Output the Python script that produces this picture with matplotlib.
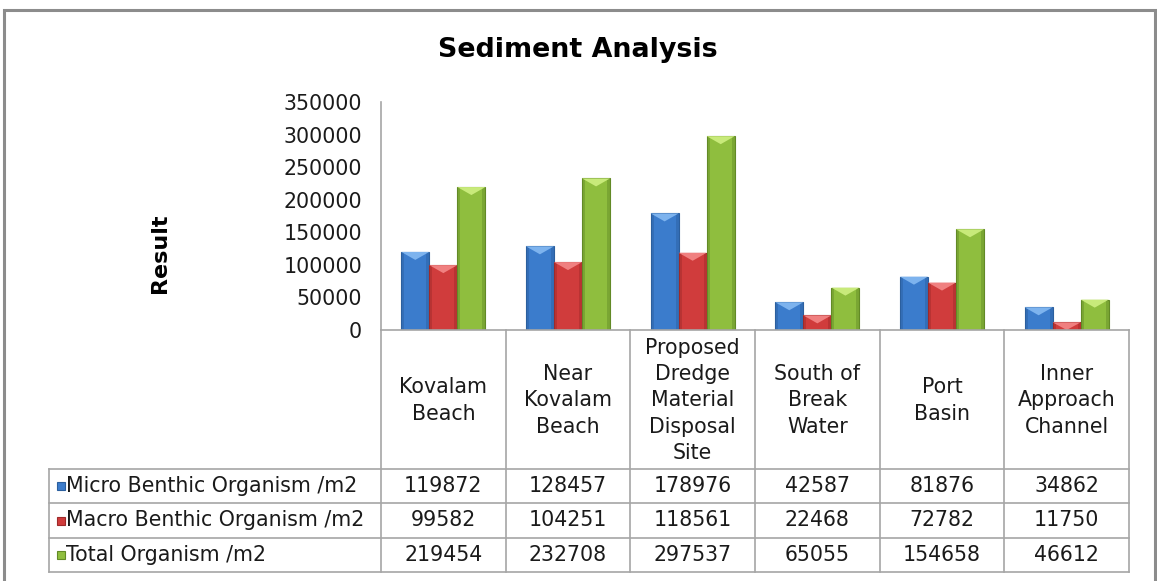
import matplotlib
matplotlib.use("Agg")
import matplotlib.pyplot as plt
import numpy as np
from matplotlib.patches import Rectangle, Polygon
from matplotlib.transforms import blended_transform_factory
from matplotlib.lines import Line2D

# ---------------- data ----------------
title = "Sediment Analysis"
y_label = "Result"
categories = ["Kovalam\nBeach", "Near\nKovalam\nBeach", "Proposed\nDredge\nMaterial\nDisposal\nSite",
              "South of\nBreak\nWater", "Port\nBasin", "Inner\nApproach\nChannel"]
series_names = ["Micro Benthic Organism /m2", "Macro Benthic Organism /m2", "Total Organism /m2"]
micro = [119872, 128457, 178976, 42587, 81876, 34862]
macro = [99582, 104251, 118561, 22468, 72782, 11750]
total = [219454, 232708, 297537, 65055, 154658, 46612]
y_ticks = [0, 50000, 100000, 150000, 200000, 250000, 300000, 350000]

# ---------------- style ----------------
W, H = 1157, 581
DPI = 100
base_colors = ["#3b7ccc", "#d03c3c", "#8fbe3e"]
dark_colors = ["#2b5f9e", "#9e2a2a", "#628a26"]
light_colors = ["#7db3ee", "#f08080", "#c8ea7a"]
grid_gray = "#a6a6a6"
FS = 14.8
FONT = "DejaVu Sans"
plt.rcParams["font.family"] = FONT

fig = plt.figure(figsize=(W / DPI, H / DPI), dpi=DPI)

def fx(px):
    return px / W

def fy(py):
    return 1 - py / H

# plot area in pixels
ax_left, ax_right, ax_top, ax_bottom = 381, 1129, 102, 330
ax = fig.add_axes([fx(ax_left), fy(ax_bottom), fx(ax_right - ax_left), (ax_bottom - ax_top) / H])
n = len(categories)
ax.set_xlim(-0.5, n - 0.5)
ax.set_ylim(0, 350000)
ax.set_yticks(y_ticks)
ax.set_yticklabels([str(v) for v in y_ticks], fontsize=FS, color="#1a1a1a")
ax.tick_params(axis="y", length=0, pad=13.5)
ax.set_xticks([])
for s in ["top", "right", "bottom"]:
    ax.spines[s].set_visible(False)
ax.spines["left"].set_color(grid_gray)
ax.spines["left"].set_linewidth(1.2)
ax.patch.set_alpha(0)

# outer frame
fig.patches.append(Rectangle((fx(4), fy(600)), fx(1155 - 4), (600 - 10) / H,
                             transform=fig.transFigure, fill=False,
                             edgecolor="#8c8c8c", linewidth=2.2, zorder=0))

# bars
x = np.arange(n)
bw = 0.225
offsets = [-bw, 0, bw]
series = [micro, macro, total]

# pixel -> data conversions
px_x = (n) / (ax_right - ax_left)      # data units per pixel (x)
px_y = 350000 / (ax_bottom - ax_top)   # data units per pixel (y)

for si, vals in enumerate(series):
    bars = ax.bar(x + offsets[si], vals, width=bw, color=base_colors[si],
                  edgecolor=dark_colors[si], linewidth=0.8, zorder=3)
    for b in bars:
        x0 = b.get_x()
        w = b.get_width()
        h = b.get_height()
        x1 = x0 + w
        sw = 3 * px_x
        ax.add_patch(Rectangle((x0, 0), sw, h, color=dark_colors[si], alpha=0.45, lw=0, zorder=4))
        ax.add_patch(Rectangle((x1 - sw, 0), sw, h, color=dark_colors[si], alpha=0.45, lw=0, zorder=4))
        d = min(8 * px_y, h)
        ax.add_patch(Polygon([(x0, h), (x1, h), (x0 + w / 2, h - d)], closed=True,
                             color=light_colors[si], lw=0, zorder=5))

# title & ylabel
fig.text(fx(578), fy(50), title, ha="center", va="center", fontsize=19.4,
         fontweight="bold", color="#000000")
fig.text(fx(160), fy(253), y_label, ha="center", va="center", fontsize=16,
         fontweight="bold", rotation=90, color="#000000")

# ---------------- data table ----------------
tr = blended_transform_factory(ax.transData, fig.transFigure)
row_lines = [330, 469, 503, 538, 572]
leg_left = 49

fig.add_artist(Line2D([-0.5, n - 0.5], [fy(row_lines[0]), fy(row_lines[0])], transform=tr,
                      color=grid_gray, linewidth=1.2))
for k in range(n + 1):
    fig.add_artist(Line2D([k - 0.5, k - 0.5], [fy(row_lines[0]), fy(row_lines[-1])],
                          transform=tr, color=grid_gray, linewidth=1.2))
for yl in row_lines[1:]:
    fig.add_artist(Line2D([fx(leg_left), fx(ax_right)], [fy(yl), fy(yl)],
                          transform=fig.transFigure, color=grid_gray, linewidth=1.2))
fig.add_artist(Line2D([fx(leg_left), fx(leg_left)], [fy(row_lines[1]), fy(row_lines[-1])],
                      transform=fig.transFigure, color=grid_gray, linewidth=1.2))

hdr_mid = (row_lines[0] + row_lines[1]) / 2 + 1
for k, c in enumerate(categories):
    fig.text(k, fy(hdr_mid), c, transform=tr, ha="center", va="center",
             fontsize=FS, color="#1a1a1a", linespacing=1.4)

for si, vals in enumerate(series):
    ymid = (row_lines[si + 1] + row_lines[si + 2]) / 2
    ks = 8
    fig.patches.append(Rectangle((fx(leg_left + 8), fy(ymid + ks / 2)), ks / W, ks / H,
                                 transform=fig.transFigure, facecolor=base_colors[si],
                                 edgecolor=dark_colors[si], linewidth=0.8))
    fig.text(fx(leg_left + 17), fy(ymid), series_names[si], ha="left", va="center",
             fontsize=FS, color="#1a1a1a")
    for k, v in enumerate(vals):
        fig.text(k, fy(ymid), str(v), transform=tr, ha="center", va="center",
                 fontsize=FS, color="#1a1a1a")

fig.savefig("out.png", dpi=DPI)
